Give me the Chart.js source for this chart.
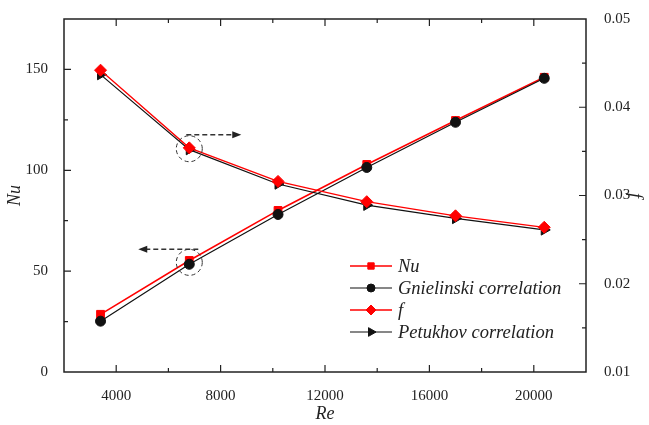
<!DOCTYPE html>
<html>
<head>
<meta charset="utf-8">
<script src="https://cdn.jsdelivr.net/npm/chart.js@4"></script>
<style>
  html, body { margin: 0; padding: 0; background: #fff; }
  canvas { display: block; }
</style>
</head>
<body>
<canvas id="nuChart" width="649" height="425"></canvas>
<script>
const reValues = [3400, 6800, 10200, 13600, 17000, 20400];
const nuValues = [28.6, 55.3, 80.1, 102.9, 124.7, 146.1];
const gnielinskiValues = [25.2, 53.4, 78.1, 101.4, 123.8, 145.6];
const fValues = [0.0442, 0.0354, 0.0316, 0.0293, 0.0277, 0.0264];
const petukhovValues = [0.0437, 0.0352, 0.0313, 0.0289, 0.0274, 0.0261];

const reTicks = [4000, 8000, 12000, 16000, 20000];
const reMinorTicks = [2000, 6000, 10000, 14000, 18000, 22000];
const nuTicks = [0, 50, 100, 150];
const nuMinorTicks = [25, 75, 125, 175];
const fTicks = [0.01, 0.02, 0.03, 0.04, 0.05];
const fMinorTicks = [0.015, 0.025, 0.035, 0.045];

const serif = '"Liberation Serif", "Times New Roman", serif';
const tickFont = { family: serif, size: 15 };
const titleFont = { family: serif, size: 18, style: 'italic' };

function pts(ys) {
    return reValues.map((x, i) => ({ x: x, y: ys[i] }));
}

function fixTicks(list) {
    return scale => { scale.ticks = list.map(v => ({ value: v })); };
}

// frame, inward ticks, legend and the dashed callouts
const decorations = {
    id: 'decorations',
    afterDraw(chart) {
        const ctx = chart.ctx;
        const a = chart.chartArea;
        const x = chart.scales.x, y = chart.scales.y, y2 = chart.scales.y2;
        ctx.save();
        ctx.strokeStyle = '#222';
        ctx.lineWidth = 1.5;
        ctx.strokeRect(a.left, a.top, a.right - a.left, a.bottom - a.top);

        ctx.lineWidth = 1.2;
        ctx.beginPath();
        const tickH = (list, len) => list.forEach(v => {
            const px = x.getPixelForValue(v);
            if (px <= a.left + 1 || px >= a.right - 1) return;
            ctx.moveTo(px, a.bottom); ctx.lineTo(px, a.bottom - len);
            ctx.moveTo(px, a.top); ctx.lineTo(px, a.top + len);
        });
        tickH(reTicks, 7); tickH(reMinorTicks, 4);
        const tickV = (sc, list, len, side) => list.forEach(v => {
            const py = sc.getPixelForValue(v);
            if (py <= a.top + 1 || py >= a.bottom - 1) return;
            if (side === 'left') { ctx.moveTo(a.left, py); ctx.lineTo(a.left + len, py); }
            else { ctx.moveTo(a.right, py); ctx.lineTo(a.right - len, py); }
        });
        tickV(y, nuTicks, 7, 'left'); tickV(y, nuMinorTicks, 4, 'left');
        tickV(y2, fTicks, 7, 'right'); tickV(y2, fMinorTicks, 4, 'right');
        ctx.stroke();

        // dashed circles around the second point, arrows to the matching axis
        const cx = x.getPixelForValue(reValues[1]);
        const cyNu = y.getPixelForValue((nuValues[1] + gnielinskiValues[1]) / 2);
        const cyF = y2.getPixelForValue((fValues[1] + petukhovValues[1]) / 2);
        ctx.strokeStyle = '#333';
        ctx.fillStyle = '#222';
        ctx.lineWidth = 1;
        ctx.setLineDash([4, 3]);
        ctx.beginPath(); ctx.arc(cx, cyNu, 13, 0, Math.PI * 2); ctx.stroke();
        ctx.beginPath(); ctx.arc(cx, cyF, 13, 0, Math.PI * 2); ctx.stroke();
        ctx.lineWidth = 1.5;
        ctx.setLineDash([5, 3]);
        ctx.beginPath(); ctx.moveTo(cx + 9, cyNu - 13); ctx.lineTo(cx - 44, cyNu - 13); ctx.stroke();
        ctx.beginPath(); ctx.moveTo(cx - 3, cyF - 14); ctx.lineTo(cx + 44, cyF - 14); ctx.stroke();
        ctx.setLineDash([]);
        ctx.beginPath();
        ctx.moveTo(cx - 51, cyNu - 13); ctx.lineTo(cx - 42, cyNu - 16.5); ctx.lineTo(cx - 42, cyNu - 9.5); ctx.closePath();
        ctx.fill();
        ctx.beginPath();
        ctx.moveTo(cx + 52, cyF - 14); ctx.lineTo(cx + 43, cyF - 17.5); ctx.lineTo(cx + 43, cyF - 10.5); ctx.closePath();
        ctx.fill();

        // legend
        const lx = 350, lw = 42, tx = 398;
        let ly = 266;
        chart.data.datasets.forEach(ds => {
            ctx.strokeStyle = ds.borderColor;
            ctx.lineWidth = ds.borderWidth;
            ctx.beginPath(); ctx.moveTo(lx, ly); ctx.lineTo(lx + lw, ly); ctx.stroke();
            ctx.fillStyle = ds.backgroundColor;
            ctx.lineWidth = 1;
            Chart.helpers.drawPoint(ctx, {
                pointStyle: ds.pointStyle,
                rotation: ds.pointRotation || 0,
                radius: ds.pointRadius - 1,
                borderWidth: 1
            }, lx + lw / 2, ly);
            ctx.fillStyle = '#222';
            ctx.font = 'italic 18.5px ' + serif;
            ctx.textBaseline = 'middle';
            ctx.fillText(ds.label, tx, ly + 1);
            ly += 22;
        });
        ctx.restore();
    }
};

const datasets = [
    { label: 'Nu', data: pts(nuValues), yAxisID: 'y', borderColor: '#ff0000', backgroundColor: '#ff0000',
      borderWidth: 1.6, pointStyle: 'rect', pointRadius: 5.5, order: 4 },
    { label: 'Gnielinski correlation', data: pts(gnielinskiValues), yAxisID: 'y', borderColor: '#111', backgroundColor: '#111',
      borderWidth: 1.2, pointStyle: 'circle', pointRadius: 5, order: 3 },
    { label: 'f', data: pts(fValues), yAxisID: 'y2', borderColor: '#ff0000', backgroundColor: '#ff0000',
      borderWidth: 1.3, pointStyle: 'rectRot', pointRadius: 6, order: 1 },
    { label: 'Petukhov correlation', data: pts(petukhovValues), yAxisID: 'y2', borderColor: '#111', backgroundColor: '#111',
      borderWidth: 1.2, pointStyle: 'triangle', pointRotation: 90, pointRadius: 6, order: 2 }
];
datasets.forEach(ds => {
    ds.pointBorderWidth = 1;
    ds.pointBorderColor = ds.borderColor;
    ds.pointBackgroundColor = ds.backgroundColor;
    ds.tension = 0;
});

new Chart(document.getElementById('nuChart'), {
    type: 'line',
    data: { datasets: datasets },
    options: {
        responsive: false,
        animation: false,
        layout: { padding: { top: 11, left: 0, right: 0, bottom: 0 } },
        plugins: { legend: { display: false }, tooltip: { enabled: false } },
        scales: {
            x: {
                type: 'linear', position: 'bottom', min: 2000, max: 22000,
                grid: { display: false }, border: { display: false },
                afterBuildTicks: fixTicks(reTicks),
                afterFit: s => { s.height = 53; },
                ticks: { font: tickFont, color: '#222', padding: 7, maxRotation: 0, callback: v => String(v) },
                title: { display: true, text: 'Re', font: titleFont, color: '#222', padding: { top: 0, bottom: 0 } }
            },
            y: {
                type: 'linear', position: 'left', min: 0, max: 175,
                grid: { display: false }, border: { display: false },
                afterBuildTicks: fixTicks(nuTicks),
                afterFit: s => { s.width = 64; },
                ticks: { font: tickFont, color: '#222', padding: 8 },
                title: { display: true, text: 'Nu', font: titleFont, color: '#222', padding: { top: 4, bottom: 0 } }
            },
            y2: {
                type: 'linear', position: 'right', min: 0.01, max: 0.05,
                grid: { display: false }, border: { display: false },
                afterBuildTicks: fixTicks(fTicks),
                afterFit: s => { s.width = 63; },
                ticks: { font: tickFont, color: '#222', padding: 10, callback: v => v.toFixed(2) },
                title: { display: true, text: 'f', font: titleFont, color: '#222', padding: { top: 3, bottom: 0 } }
            }
        }
    },
    plugins: [decorations]
});
</script>
</body>
</html>
